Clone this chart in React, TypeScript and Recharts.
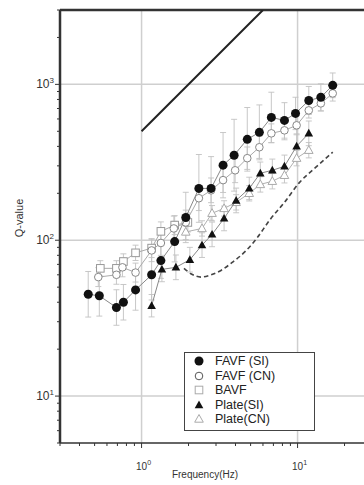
import React from "react"
import { ComposedChart, ErrorBar, Line, ReferenceLine, Scatter, XAxis, YAxis } from "recharts"

// Frequency (Hz), Q-value and error-bar spread (multiplicative) per series
const favfSiFreq = [0.455, 0.536, 0.69, 0.765, 0.915, 1.16, 1.33, 1.63, 1.92, 2.33, 2.79, 3.33, 3.92, 4.76, 5.69, 6.79, 8.24, 9.7, 11.8, 14.1, 16.8]
const favfSiQ = [45, 44, 37, 40, 48, 60, 74, 98, 140, 215, 215, 303, 351, 444, 492, 614, 587, 651, 788, 826, 986]
const favfSiErr = [1.4, 1.35, 1.3, 1.3, 1.35, 1.45, 1.3, 1.35, 1.45, 1.65, 1.6, 1.62, 1.7, 1.6, 1.5, 1.45, 1.3, 1.27, 1.23, 1.22, 1.2]

const favfCnFreq = [0.528, 0.69, 0.754, 0.915, 1.16, 1.33, 1.61, 1.92, 2.33, 2.79, 3.33, 3.98, 4.76, 5.69, 6.79, 8.24, 9.86, 11.8, 14.1, 16.8]
const favfCnQ = [58, 60, 67, 62, 86, 96, 119, 130, 186, 209, 243, 281, 336, 395, 485, 507, 546, 681, 755, 875]
const favfCnErr = [1.15, 1.15, 1.15, 1.15, 1.18, 1.2, 1.2, 1.2, 1.2, 1.2, 1.2, 1.2, 1.18, 1.18, 1.15, 1.15, 1.15, 1.12, 1.12, 1.12]

const bavfFreq = [0.544, 0.69, 0.765, 0.915, 1.16, 1.33, 1.63, 1.98]
const bavfQ = [66, 66, 73, 83, 89, 114, 125, 130]
const bavfErr = [1.12, 1.12, 1.12, 1.12, 1.15, 1.15, 1.15, 1.15]

const plateSiFreq = [1.16, 1.35, 1.66, 2.04, 2.44, 2.83, 3.38, 4.04, 4.9, 5.77, 6.89, 8.24, 9.86, 11.8]
const plateSiQ = [38, 65, 67, 75, 93, 109, 138, 180, 215, 269, 281, 298, 401, 485]
const plateSiErr = [1.18, 1.2, 1.2, 1.2, 1.2, 1.2, 1.2, 1.2, 1.18, 1.18, 1.18, 1.18, 1.2, 1.2]

const plateCnFreq = [1.92, 2.44, 2.83, 3.38, 4.04, 4.9, 5.77, 6.89, 8.24, 9.86, 11.8]
const plateCnQ = [113, 119, 149, 160, 175, 200, 228, 239, 261, 336, 378]
const plateCnErr = [1.12, 1.12, 1.12, 1.12, 1.12, 1.12, 1.12, 1.12, 1.12, 1.12, 1.12]

// dashed model curve and the solid Q = 500 f reference line
const dashFreq = [1.87, 2.1, 2.4, 2.79, 3.23, 3.81, 4.69, 5.52, 6.6, 8.24, 10.3, 12.9, 16.8]
const dashQ = [66, 60.5, 58, 60, 64, 72, 86, 104, 134, 175, 235, 290, 367]
const refFreq = [1, 6]
const refQ = [500, 3000]

const xTicks = [0.3, 0.4, 0.5, 0.6, 0.7, 0.8, 0.9, 1, 2, 3, 4, 5, 6, 7, 8, 9, 10, 20, 30]
const yTicks = [5, 6, 7, 8, 9, 10, 20, 30, 40, 50, 60, 70, 80, 90, 100, 200, 300, 400, 500, 600, 700, 800, 900, 1000, 2000, 3000]

const FONT = '"Liberation Sans", Arial, sans-serif'

type Marker = "dot" | "ring" | "square" | "tri" | "openTri"

function Symbol({ kind, cx, cy, stroke }: { kind: Marker; cx: number; cy: number; stroke: string }) {
  if (kind === "dot") return <circle cx={cx} cy={cy} r={4.5} fill="#111" />
  if (kind === "ring") return <circle cx={cx} cy={cy} r={3.8} fill="#fff" stroke={stroke} strokeWidth={1} />
  if (kind === "square") return <rect x={cx - 3.8} y={cy - 3.8} width={7.6} height={7.6} fill="#fff" stroke={stroke} strokeWidth={1} />
  const pts = `${cx},${cy - 4.5} ${cx + 4.3},${cy + 3.2} ${cx - 4.3},${cy + 3.2}`
  if (kind === "tri") return <polygon points={pts} fill="#111" />
  return <polygon points={pts} fill="#fff" stroke={stroke} strokeWidth={1} />
}

const series = [
  { name: "Plate(CN)", freq: plateCnFreq, q: plateCnQ, err: plateCnErr, kind: "openTri" as Marker, stroke: "#aaa", line: "#b0b0b0" },
  { name: "Plate(SI)", freq: plateSiFreq, q: plateSiQ, err: plateSiErr, kind: "tri" as Marker, stroke: "#111", line: "#888" },
  { name: "BAVF", freq: bavfFreq, q: bavfQ, err: bavfErr, kind: "square" as Marker, stroke: "#999", line: "#aaa" },
  { name: "FAVF (CN)", freq: favfCnFreq, q: favfCnQ, err: favfCnErr, kind: "ring" as Marker, stroke: "#888", line: "#aaa" },
  { name: "FAVF (SI)", freq: favfSiFreq, q: favfSiQ, err: favfSiErr, kind: "dot" as Marker, stroke: "#111", line: "#888" },
]

const legendOrder = ["FAVF (SI)", "FAVF (CN)", "BAVF", "Plate(SI)", "Plate(CN)"]
const legendStroke: Record<string, string> = { "FAVF (CN)": "#555", BAVF: "#aaa", "Plate(CN)": "#aaa" }

function toPoints(freq: number[], q: number[], err?: number[]) {
  return freq.map((f, i) => ({
    f,
    q: q[i],
    err: err ? [q[i] - q[i] / err[i], q[i] * err[i] - q[i]] : 0,
  }))
}

function isDecade(v: number) {
  const l = Math.log10(v)
  return Math.abs(l - Math.round(l)) < 1e-6
}

function XTick(props: any) {
  const { x, y, payload } = props
  const v = payload.value
  const major = isDecade(v)
  return (
    <g>
      <line x1={x} x2={x} y1={y} y2={y + (major ? 5 : 3)} stroke="#333" strokeWidth={1} />
      {major && (
        <text x={x + 2} y={y + 27} textAnchor="middle" fontSize={10} fill="#333" fontFamily={FONT}>
          10
          <tspan dy={-5} fontSize={7}>{Math.round(Math.log10(v))}</tspan>
        </text>
      )}
    </g>
  )
}

function YTick(props: any) {
  const { x, y, payload } = props
  const v = payload.value
  const major = isDecade(v)
  return (
    <g>
      <line x1={x} x2={x - (major ? 5 : 3)} y1={y} y2={y} stroke="#333" strokeWidth={1} />
      {major && (
        <text x={x - 6} y={y + 4} textAnchor="end" fontSize={12} fill="#333" fontFamily={FONT}>
          10
          <tspan dy={-5} fontSize={8}>{Math.round(Math.log10(v))}</tspan>
        </text>
      )}
    </g>
  )
}

export default function App() {
  return (
    <div style={{ position: "fixed", left: 0, top: 0, width: 364, height: 485, overflow: "hidden", background: "#fff" }}>
      <ComposedChart width={380} height={485} margin={{ top: 10, right: 8, bottom: 0, left: 0 }}>
        <XAxis
          type="number"
          dataKey="f"
          scale="log"
          domain={[0.3, 30]}
          allowDataOverflow
          ticks={xTicks}
          interval={0}
          height={42}
          tickSize={0}
          tickMargin={0}
          tickLine={false}
          axisLine={{ stroke: "#333", strokeWidth: 1.5 }}
          tick={<XTick />}
        />
        <YAxis
          type="number"
          dataKey="q"
          scale="log"
          domain={[5, 3000]}
          allowDataOverflow
          ticks={yTicks}
          interval={0}
          width={60}
          tickSize={0}
          tickMargin={0}
          tickLine={false}
          axisLine={{ stroke: "#333", strokeWidth: 2.5 }}
          tick={<YTick />}
        />
        {[1, 10].map((v) => (
          <ReferenceLine key={`vx${v}`} x={v} stroke="#cfcfcf" strokeWidth={1.5} />
        ))}
        {[10, 100, 1000].map((v) => (
          <ReferenceLine key={`hy${v}`} y={v} stroke="#cfcfcf" strokeWidth={1.5} />
        ))}
        <ReferenceLine y={3000} stroke="#333" strokeWidth={2.5} />
        <Line
          data={toPoints(refFreq, refQ)}
          dataKey="q"
          type="linear"
          stroke="#222"
          strokeWidth={2}
          dot={false}
          activeDot={false}
          isAnimationActive={false}
        />
        <Line
          data={toPoints(dashFreq, dashQ)}
          dataKey="q"
          type="monotone"
          stroke="#444"
          strokeWidth={1.6}
          strokeDasharray="4.5 3"
          dot={false}
          activeDot={false}
          isAnimationActive={false}
        />
        {series.map((s) => (
          <Scatter
            key={s.name}
            name={s.name}
            data={toPoints(s.freq, s.q, s.err)}
            line={{ stroke: s.line, strokeWidth: 1 }}
            lineType="joint"
            fill={s.stroke}
            isAnimationActive={false}
            shape={(p: any) => <Symbol kind={s.kind} cx={p.cx} cy={p.cy} stroke={s.stroke} />}
          >
            <ErrorBar dataKey="err" direction="y" width={3} stroke="#c2c2c2" strokeWidth={0.9} />
          </Scatter>
        ))}
      </ComposedChart>

      <div
        style={{
          position: "absolute",
          left: 19,
          top: 218,
          transform: "translate(-50%, -50%) rotate(-90deg)",
          fontFamily: FONT,
          fontSize: 11,
          color: "#333",
          whiteSpace: "nowrap",
        }}
      >
        Q-value
      </div>
      <div
        style={{
          position: "absolute",
          left: 150,
          width: 110,
          top: 469,
          textAlign: "center",
          fontFamily: FONT,
          fontSize: 10,
          lineHeight: "12px",
          color: "#333",
        }}
      >
        Frequency(Hz)
      </div>

      <div
        style={{
          position: "absolute",
          left: 184,
          top: 352,
          width: 131,
          height: 79,
          boxSizing: "border-box",
          border: "1px solid #444",
          background: "#fff",
          fontFamily: FONT,
          fontSize: 12.5,
          color: "#222",
        }}
      >
        {legendOrder.map((name, i) => {
          const s = series.find((d) => d.name === name)!
          return (
            <div
              key={name}
              style={{ position: "absolute", left: 0, top: 1 + i * 14.5, height: 14.5, display: "flex", alignItems: "center" }}
            >
              <svg width={30} height={14} style={{ display: "block" }}>
                <Symbol kind={s.kind} cx={14} cy={7} stroke={legendStroke[name] ?? s.stroke} />
              </svg>
              <span style={{ lineHeight: "14px" }}>{name}</span>
            </div>
          )
        })}
      </div>
    </div>
  )
}
